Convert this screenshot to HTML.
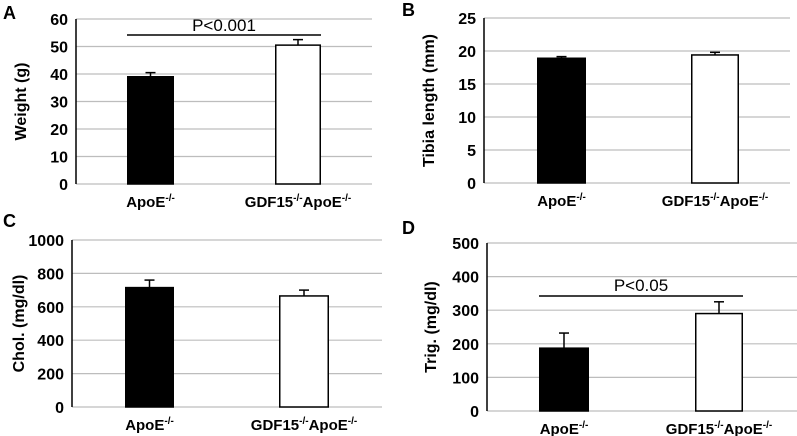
<!DOCTYPE html>
<html><head><meta charset="utf-8"><style>
html,body{margin:0;padding:0;background:#fff;}
svg{display:block;font-family:"Liberation Sans",Arial,sans-serif;}
</style></head><body>
<svg id="chart" width="797" height="436" viewBox="0 0 797 436"></svg>
<script>
const categories = ["ApoE", "GDF15ApoE"];
const weightValues = [39, 50.5];
const weightErrors = [1.5, 2];
const tibiaValues = [18.9, 19.4];
const tibiaErrors = [0.25, 0.4];
const cholValues = [715, 665];
const cholErrors = [45, 35];
const trigValues = [187, 290];
const trigErrors = [45, 35];
const weightTicks = [0, 10, 20, 30, 40, 50, 60];
const tibiaTicks = [0, 5, 10, 15, 20, 25];
const cholTicks = [0, 200, 400, 600, 800, 1000];
const trigTicks = [0, 100, 200, 300, 400, 500];

const NS = "http://www.w3.org/2000/svg";
const svg = document.getElementById("chart");
function mk(tag, attrs, parent, text) {
  const e = document.createElementNS(NS, tag);
  for (const k in attrs) e.setAttribute(k, attrs[k]);
  if (text !== undefined) e.textContent = text;
  (parent || svg).appendChild(e);
  return e;
}

const panels = [
  {id:"a", letter:"A", lx:3, ly:19, ax:76, gx:372, y0:184, y1:19, ticks:weightTicks, vals:weightValues, errs:weightErrors, bars:[[127,174],[275,321]], title:"Weight (g)", tx:20, p:{text:"P<0.001", y:35, ty:31}},
  {id:"b", letter:"B", lx:402, ly:16, ax:484, gx:790, y0:183, y1:18, ticks:tibiaTicks, vals:tibiaValues, errs:tibiaErrors, bars:[[537,586],[691,739]], title:"Tibia length (mm)", tx:428},
  {id:"c", letter:"C", lx:3, ly:227, ax:72, gx:382, y0:407, y1:240, ticks:cholTicks, vals:cholValues, errs:cholErrors, bars:[[125,174],[279,329]], title:"Chol. (mg/dl)", tx:18},
  {id:"d", letter:"D", lx:402, ly:234, ax:487, gx:797, y0:411, y1:243, ticks:trigTicks, vals:trigValues, errs:trigErrors, bars:[[539,589],[695,743]], title:"Trig. (mg/dl)", tx:430, p:{text:"P<0.05", y:296, ty:291}}
];

panels.forEach(P => {
  const g = mk("g", {});
  
  
  const tmax = P.ticks[P.ticks.length - 1];
  const ys = v => P.y0 - (v / tmax) * (P.y0 - P.y1);
  const L = mk("text", {x:P.lx, y:P.ly, "font-size":18, "font-weight":"bold"}, g, P.letter);
  
  
  P.ticks.forEach(t => {
    const y = ys(t);
    if (t > 0) {
      const gl = mk("line", {x1:P.ax, x2:P.gx, y1:y, y2:y, stroke:"#bdbdbd", "stroke-width":1.2}, g);
      
      
    }
    const tl = mk("text", {x:P.ax - 8, y:y + 6, "font-size":16, "font-weight":"bold", "text-anchor":"end"}, g, String(t));
    
    
  });
  const base = mk("line", {x1:P.ax, x2:P.gx, y1:P.y0, y2:P.y0, stroke:"#bdbdbd", "stroke-width":1.2}, g);
  
  
  const yax = mk("line", {x1:P.ax, x2:P.ax, y1:P.y1, y2:P.y0, stroke:"#000", "stroke-width":1.5}, g);
  
  
  const cy = (P.y0 + P.y1) / 2;
  const tt = mk("text", {x:P.tx, y:cy, "font-size":16, "font-weight":"bold", "text-anchor":"middle", transform:`rotate(-90 ${P.tx} ${cy})`, dy:6}, g, P.title);
  
  
  P.vals.forEach((v, i) => {
    const [x0, x1] = P.bars[i];
    const top = ys(v), cx = (x0 + x1) / 2;
    const et = ys(v + P.errs[i]);
    const eb = mk("line", {x1:cx, x2:cx, y1:top, y2:et, stroke:"#000", "stroke-width":1.5}, g);
    
    
    const ec = mk("line", {x1:cx - 5, x2:cx + 5, y1:et, y2:et, stroke:"#000", "stroke-width":1.5}, g);
    
    
    const r = mk("rect", {x:x0 + 0.75, y:top, width:x1 - x0 - 1.5, height:P.y0 - top, fill:i === 0 ? "#000" : "#fff", stroke:"#000", "stroke-width":1.5}, g);
    
    
    const lab = mk("text", {x:cx, y:P.y0 + 23, "font-size":15, "font-weight":"bold", "text-anchor":"middle"}, g);
    
    
    if (i === 0) {
      lab.innerHTML = 'ApoE<tspan font-size="10" dy="-6">-/-</tspan>';
    } else {
      lab.innerHTML = 'GDF15<tspan font-size="10" dy="-6">-/-</tspan><tspan dy="6">ApoE</tspan><tspan font-size="10" dy="-6">-/-</tspan>';
    }
  });
  if (P.p) {
    const x0 = P.bars[0][0], x1 = P.bars[1][1];
    const pl = mk("line", {x1:x0, x2:x1, y1:P.p.y, y2:P.p.y, stroke:"#000", "stroke-width":1.5}, g);
    
    
    const pt = mk("text", {x:(x0 + x1) / 2, y:P.p.ty, "font-size":17, "text-anchor":"middle"}, g, P.p.text);
    
    
  }
});
</script>
</body></html>
